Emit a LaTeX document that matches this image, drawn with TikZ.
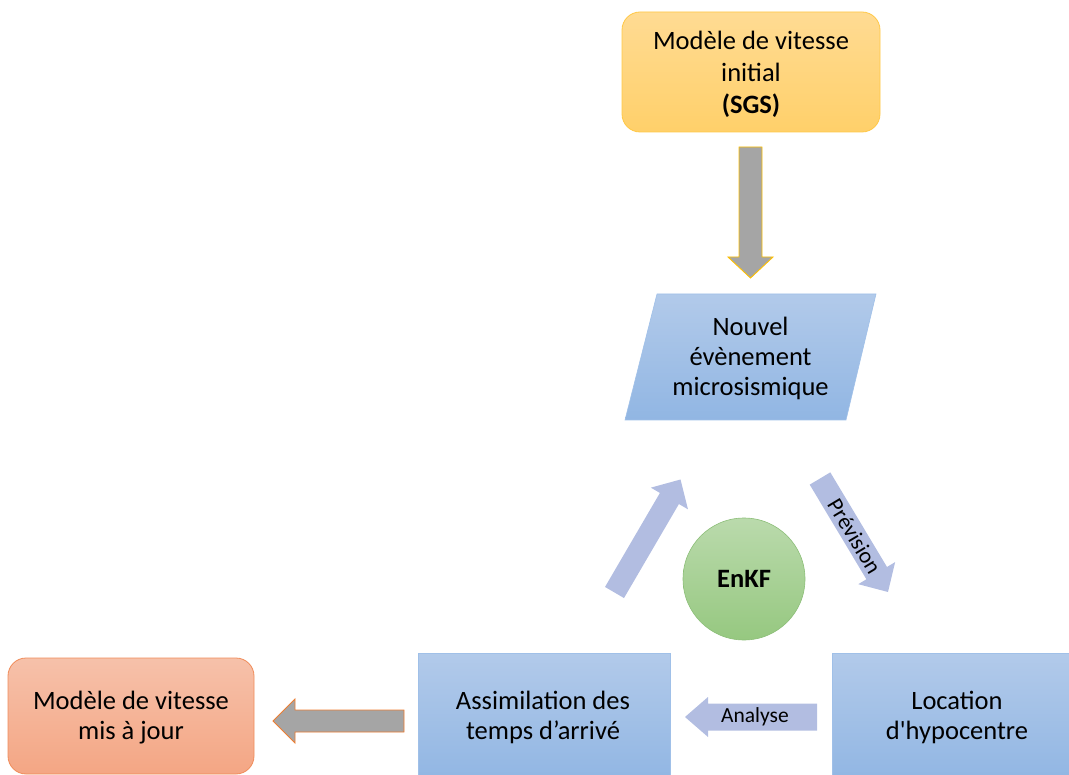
\documentclass[tikz,border=0pt]{standalone}
\usepackage{fontspec}
\setmainfont{Carlito}[Ligatures=TeXOff]
\usetikzlibrary{calc}
\definecolor{orgT}{RGB}{255,219,147}
\definecolor{orgB}{RGB}{255,208,106}
\definecolor{orgL}{RGB}{255,200,70}
\definecolor{salT}{RGB}{246,193,170}
\definecolor{salB}{RGB}{244,166,132}
\definecolor{salL}{RGB}{240,140,90}
\definecolor{bluT}{RGB}{178,202,234}
\definecolor{bluB}{RGB}{145,182,227}
\definecolor{bluL}{RGB}{160,192,232}
\definecolor{grnT}{RGB}{186,218,172}
\definecolor{grnB}{RGB}{150,200,128}
\definecolor{grnL}{RGB}{140,190,120}
\definecolor{lav}{RGB}{178,189,225}
\definecolor{gry}{RGB}{165,165,165}
\definecolor{gold}{RGB}{255,192,0}
\definecolor{orgarrow}{RGB}{237,125,49}
\newcommand\blockarrow[6]{% #1 style, #2 tail, #3 tip, #4 shaft hw, #5 head hw, #6 head length
  \path[#1] ($(#2)!#4!90:(#3)$) -- ($(#3)!#6!(#2)!#4!-90:(#2)$) -- ($(#3)!#6!(#2)!#5!-90:(#2)$) -- (#3)
    -- ($(#3)!#6!(#2)!#5!90:(#2)$) -- ($(#3)!#6!(#2)!#4!90:(#2)$) -- ($(#2)!#4!-90:(#3)$) -- cycle;}
\begin{document}
\begin{tikzpicture}[x=1pt,y=-1pt,
  txt/.style={font=\fontsize{26.5}{30}\selectfont, align=center, text=black, inner sep=0pt},
  lbl/.style={font=\fontsize{21.5}{24}\selectfont, text=black, inner sep=0pt},
  orangebox/.style={rectangle, rounded corners=18pt, top color=orgT, bottom color=orgB, draw=orgL, line width=0.8pt},
  salbox/.style={rectangle, rounded corners=18pt, top color=salT, bottom color=salB, draw=salL, line width=0.8pt},
  bluebox/.style={rectangle, top color=bluT, bottom color=bluB, draw=bluL, line width=0.6pt},
  grnball/.style={circle, top color=grnT, bottom color=grnB, draw=grnL, line width=0.6pt},
  grayarrowY/.style={fill=gry, draw=gold, line width=0.9pt, line join=miter},
  grayarrowO/.style={fill=gry, draw=orgarrow, line width=0.9pt, line join=miter},
  lavarrow/.style={fill=lav}]
\useasboundingbox (0,0) rectangle (1069,775);
\clip (0,0) rectangle (1069,775);

% boxes
\node[orangebox, minimum width=258pt, minimum height=120pt] (init) at (751,72) {};
\node[txt, font=\fontsize{26.5}{32}\selectfont] at (751,74) {Modèle de vitesse\\initial\\\textbf{(SGS)}};

\coordinate (p1) at (625,420);
\coordinate (p2) at (846,420);
\coordinate (p3) at (876,294);
\coordinate (p4) at (657,294);
\path[top color=bluT, bottom color=bluB, draw=bluL, line width=0.6pt] (p1) -- (p2) -- (p3) -- (p4) -- cycle;
\node[txt] (evt) at (750.5,358) {Nouvel\\évènement\\microsismique};

\node[grnball, minimum size=122pt] (enkf) at (744,579) {};
\node[txt, font=\fontsize{26.5}{30}\selectfont\bfseries] at (enkf) {EnKF};

\node[bluebox, minimum width=252pt, minimum height=128pt] (assim) at (544,717) {};
\node[txt] at (543,717) {Assimilation des\\temps d’arrivé};

\node[bluebox, minimum width=252pt, minimum height=128pt] (loc) at (958,717) {};
\node[txt] at (957,717) {Location\\d'hypocentre};

\node[salbox, minimum width=246pt, minimum height=116pt] (maj) at (131,716) {};
\node[txt] at (131,718) {Modèle de vitesse\\mis à jour};

% arrows
\coordinate (d1) at (750.5,147);
\coordinate (d2) at (750.5,278);
\blockarrow{grayarrowY}{d1}{d2}{11.5pt}{22.5pt}{21pt}

\coordinate (l1) at (404,721);
\coordinate (l2) at (273,721);
\blockarrow{grayarrowO}{l1}{l2}{11pt}{22pt}{22pt}

\coordinate (a1) at (817,717);
\coordinate (a2) at (685,717);
\blockarrow{lavarrow}{a1}{a2}{13.5pt}{20pt}{23pt}
\node[lbl] at (755,717) {Analyse};

\coordinate (u1) at (614.5,592.5);
\coordinate (u2) at (680.5,479.5);
\blockarrow{lavarrow}{u1}{u2}{11pt}{21.5pt}{22pt}

\coordinate (v1) at (820,478.5);
\coordinate (v2) at (888,592);
\blockarrow{lavarrow}{v1}{v2}{12pt}{21.5pt}{22pt}
\node[lbl, font=\fontsize{22.5}{24}\selectfont, rotate=-59.1] at ($(v1)!0.51!(v2)$) {Prévision};
\end{tikzpicture}
\end{document}
